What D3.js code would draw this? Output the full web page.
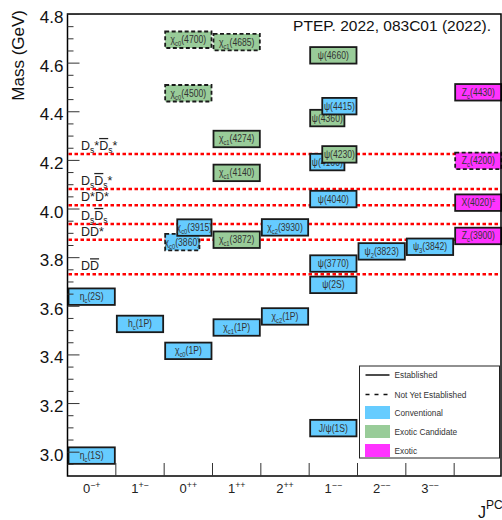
<!DOCTYPE html>
<html>
<head>
<meta charset="utf-8">
<script src="https://cdn.jsdelivr.net/npm/d3@7/dist/d3.min.js"></script>
<style>
  body { margin: 0; background: #fff; }
  text { font-family: "Liberation Sans", Arial, sans-serif; }
</style>
</head>
<body>
<svg id="chart" width="502" height="520"></svg>
<script>
// J^PC columns (last one holds the charged exotics, no label)
const columns = ['0-+', '1+-', '0++', '1++', '2++', '1--', '2--', '3--', 'exotic'];
const columnLabels = ['0^{−+}', '1^{+−}', '0^{++}', '1^{++}', '2^{++}', '1^{−−}', '2^{−−}', '3^{−−}', ''];

// charmonium(-like) states, masses in GeV
const stateNames = [
  'η_{c}(1S)', 'η_{c}(2S)',
  'h_{c}(1P)',
  'χ_{c0}(1P)', 'χ_{c0}(3860)', 'χ_{c0}(3915)', 'χ_{c0}(4500)', 'χ_{c0}(4700)',
  'χ_{c1}(1P)', 'χ_{c1}(3872)', 'χ_{c1}(4140)', 'χ_{c1}(4274)', 'χ_{c1}(4685)',
  'χ_{c2}(1P)', 'χ_{c2}(3930)',
  'J/ψ(1S)', 'ψ(2S)', 'ψ(3770)', 'ψ(4040)', 'ψ(4160)', 'ψ(4230)', 'ψ(4360)', 'ψ(4415)', 'ψ(4660)',
  'ψ_{2}(3823)',
  'ψ_{3}(3842)',
  'Z_{c}(3900)', 'X(4020)^{±}', 'Z_{c}(4200)', 'Z_{c}(4430)'
];
const stateMasses = [
  2.9839, 3.6375,
  3.5254,
  3.4147, 3.862, 3.9217, 4.474, 4.694,
  3.5107, 3.8717, 4.1466, 4.286, 4.684,
  3.5562, 3.9225,
  3.0969, 3.6861, 3.7737, 4.039, 4.191, 4.2227, 4.372, 4.421, 4.630,
  3.8237,
  3.8427,
  3.8872, 4.0241, 4.196, 4.478
];
const stateColumns = [
  '0-+', '0-+',
  '1+-',
  '0++', '0++', '0++', '0++', '0++',
  '1++', '1++', '1++', '1++', '1++',
  '2++', '2++',
  '1--', '1--', '1--', '1--', '1--', '1--', '1--', '1--', '1--',
  '2--',
  '3--',
  'exotic', 'exotic', 'exotic', 'exotic'
];
const stateKinds = [
  'conv', 'conv',
  'conv',
  'conv', 'conv', 'conv', 'cand', 'cand',
  'conv', 'cand', 'cand', 'cand', 'cand',
  'conv', 'conv',
  'conv', 'conv', 'conv', 'conv', 'conv', 'cand', 'cand', 'conv', 'cand',
  'conv',
  'conv',
  'exotic', 'exotic', 'exotic', 'exotic'
];
const stateEstablished = [
  true, true,
  true,
  true, false, true, false, false,
  true, true, true, true, false,
  true, true,
  true, true, true, true, true, true, true, true, true,
  true,
  true,
  true, true, false, true
];

// open-charm thresholds (GeV)
const thresholdNames = ['D~{D}', 'D~{D}*', 'D_{s}~{D}_{s}', 'D*~{D}*', 'D_{s}~{D}_{s}*', 'D_{s}*~{D}_{s}*'];
const thresholdMasses = [3.7297, 3.8717, 3.9366, 4.0137, 4.0805, 4.2244];

const legendLabels = ['Established', 'Not Yet Established', 'Conventional', 'Exotic Candidate', 'Exotic'];

const kindColor = { conv: '#66ccff', cand: '#99cc99', exotic: '#ff33ff' };

const svg = d3.select('#chart');
const plotLeft = 67.5, plotRight = 501, plotTop = 14, plotBottom = 476;

const x = d3.scaleBand().domain(columns).range([plotLeft, 502.5]).padding(0);
const y = d3.scaleLinear().domain([2.9, 4.8]).range([plotBottom, plotTop]);
const w = x.bandwidth();
const boxH = 16.5;

// write a label with _{sub}, ^{sup} and ~{overline} pieces into a text node
function rich(textSel, str, size, subDy) {
  const re = /(_|\^|~)\{([^}]*)\}/g;
  const parts = [];
  let last = 0, m;
  while ((m = re.exec(str))) {
    if (m.index > last) parts.push({ t: str.slice(last, m.index), k: '' });
    parts.push({ t: m[2], k: m[1] });
    last = re.lastIndex;
  }
  if (last < str.length) parts.push({ t: str.slice(last), k: '' });
  let shift = 0;
  parts.forEach(p => {
    const ts = textSel.append('tspan').text(p.t);
    const target = p.k === '_' ? subDy : p.k === '^' ? -subDy * 1.4 : 0;
    if (target - shift !== 0) ts.attr('dy', target - shift);
    shift = target;
    if (p.k === '_' || p.k === '^') ts.attr('font-size', size * 0.68);
    if (p.k === '~') ts.style('text-decoration', 'overline');
  });
}

// thresholds
const thr = svg.append('g');
thresholdMasses.forEach((m, i) => {
  thr.append('line')
    .attr('x1', plotLeft + 1).attr('x2', 499)
    .attr('y1', y(m)).attr('y2', y(m))
    .attr('stroke', '#ff0000').attr('stroke-width', 2.5)
    .attr('stroke-dasharray', '3.5,2.5');
  const t = thr.append('text')
    .attr('x', 81).attr('y', y(m) - 4)
    .attr('font-size', 12.5).attr('fill', '#222');
  rich(t, thresholdNames[i], 12.5, 3.5);
});

// states, drawn from low to high mass so upper boxes sit on top
const states = stateNames.map((name, i) => ({
  name, mass: stateMasses[i], col: stateColumns[i],
  kind: stateKinds[i], est: stateEstablished[i]
}));
states.forEach(s => {
  const near = states.find(o => o !== s && o.col === s.col && Math.abs(o.mass - s.mass) < 0.074);
  s.slot = near ? (s.mass < near.mass ? 'left' : 'right') : 'full';
});
states.sort((a, b) => a.mass - b.mass);

const boxW = d => (d.slot === 'full' ? w : w * 0.75);
const boxes = svg.append('g').selectAll('g').data(states).join('g')
  .attr('transform', d => {
    const x0 = x(d.col) + (d.slot === 'right' ? w * 0.25 : 0);
    return `translate(${x0},${y(d.mass)})`;
  });
boxes.append('rect')
  .attr('x', 1).attr('y', -boxH / 2)
  .attr('width', d => boxW(d) - 2)
  .attr('height', boxH)
  .attr('fill', d => kindColor[d.kind])
  .attr('stroke', '#1a1a1a').attr('stroke-width', 1.8)
  .attr('stroke-dasharray', d => d.est ? null : '4,2.5');
// box labels are a bit narrow in the original, squeeze them horizontally
boxes.append('text')
  .attr('transform', d => `translate(${boxW(d) / 2},3.5) scale(0.86,1)`)
  .attr('text-anchor', 'middle')
  .attr('font-size', 10).attr('fill', '#333')
  .each(function (d) { rich(d3.select(this), d.name, 10, 3); });

// frame
svg.append('rect')
  .attr('x', plotLeft).attr('y', plotTop)
  .attr('width', plotRight - plotLeft).attr('height', plotBottom - plotTop)
  .attr('fill', 'none').attr('stroke', '#000').attr('stroke-width', 1.5);

// y axis, ticks pointing inwards
const major = d3.range(0, 10).map(i => +(3.0 + i * 0.2).toFixed(2));
const minor = d3.range(0, 38).map(i => +(2.95 + i * 0.05).toFixed(2)).filter(v => !major.includes(v));
const yAxis = svg.append('g').attr('transform', `translate(${plotLeft},0)`)
  .call(d3.axisLeft(y).tickValues(major).tickSize(-12).tickPadding(4).tickFormat(d3.format('.1f')));
svg.append('g').attr('transform', `translate(${plotLeft},0)`)
  .call(d3.axisLeft(y).tickValues(minor).tickSize(-6).tickFormat(''))
  .call(g => g.select('.domain').remove());
yAxis.select('.domain').remove();
svg.selectAll('.tick line').attr('stroke', '#333');
yAxis.selectAll('text')
  .attr('font-size', 17).attr('fill', '#111')
  .attr('font-family', '"Liberation Sans", Arial, sans-serif')
  .attr('dy', '0.5em');

svg.append('text')
  .attr('transform', 'translate(24,10) rotate(-90)')
  .attr('text-anchor', 'end')
  .attr('font-size', 17).attr('fill', '#111')
  .text('Mass (GeV)');

// x axis: ticks at column boundaries, labels at centres
svg.append('g').selectAll('line').data(columns.slice(1)).join('line')
  .attr('x1', d => x(d)).attr('x2', d => x(d))
  .attr('y1', plotBottom).attr('y2', plotBottom - 13)
  .attr('stroke', '#333').attr('stroke-width', 1);
svg.append('g').selectAll('text').data(columns).join('text')
  .attr('x', d => x(d) + w / 2)
  .attr('y', 493)
  .attr('text-anchor', 'middle')
  .attr('font-size', 13).attr('fill', '#222')
  .each(function (d, i) { rich(d3.select(this), columnLabels[i], 13, 3.5); });

const jpc = svg.append('text').attr('x', 478).attr('y', 518).attr('fill', '#111');
jpc.append('tspan').attr('font-size', 16).text('J');
jpc.append('tspan').attr('font-size', 12).attr('dy', -9).text('PC');

// title
svg.append('text')
  .attr('x', 491).attr('y', 31)
  .attr('text-anchor', 'end')
  .attr('font-size', 15.5).attr('fill', '#111')
  .text('PTEP. 2022, 083C01 (2022).');

// legend
const lg = svg.append('g').attr('transform', 'translate(359.5,366)');
lg.append('rect').attr('width', 140).attr('height', 92)
  .attr('fill', '#fff').attr('stroke', '#222').attr('stroke-width', 1);
const rowY = [9, 28.5, 46.5, 65.5, 84.5];
lg.append('line').attr('x1', 6).attr('x2', 30).attr('y1', rowY[0]).attr('y2', rowY[0])
  .attr('stroke', '#111').attr('stroke-width', 1.5);
lg.append('line').attr('x1', 6).attr('x2', 30).attr('y1', rowY[1]).attr('y2', rowY[1])
  .attr('stroke', '#111').attr('stroke-width', 1.5).attr('stroke-dasharray', '4,5');
['conv', 'cand', 'exotic'].forEach((k, i) => {
  lg.append('rect').attr('x', 5.5).attr('y', rowY[i + 2] - 6.5)
    .attr('width', 25).attr('height', 13).attr('fill', kindColor[k]);
});
lg.selectAll('text.lab').data(legendLabels).join('text')
  .attr('class', 'lab')
  .attr('x', 35).attr('y', (d, i) => rowY[i] + 3)
  .attr('font-size', 8.3).attr('fill', '#333')
  .text(d => d);
</script>
</body>
</html>
